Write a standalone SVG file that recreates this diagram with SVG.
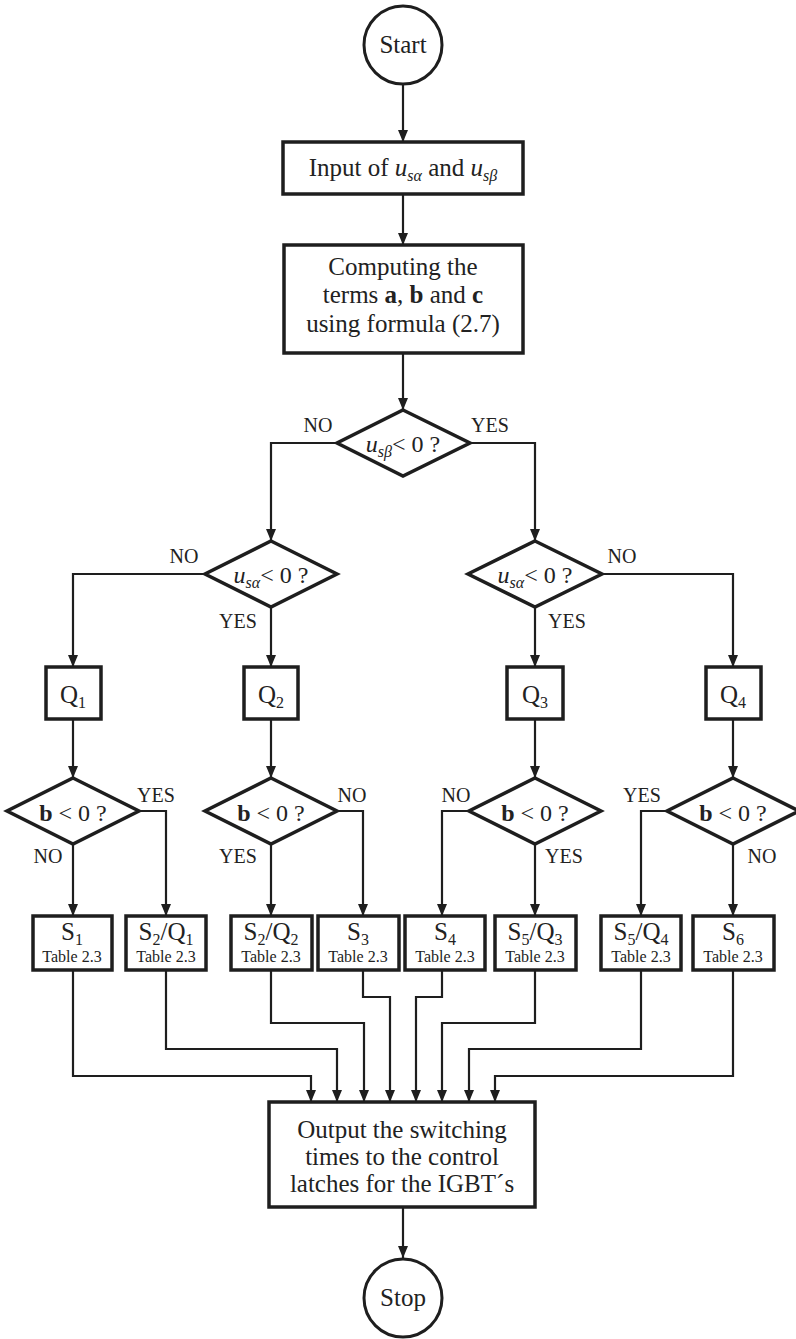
<svg xmlns="http://www.w3.org/2000/svg" width="796" height="1339" viewBox="0 0 796 1339">
<defs>
<marker id="arr" markerUnits="userSpaceOnUse" markerWidth="12" markerHeight="10" refX="12" refY="5" orient="auto">
<path d="M0,0 L12,5 L0,10 z" fill="#1e1e1e"/>
</marker>
<style>
text{font-family:"Liberation Serif","Times New Roman",serif;fill:#222;}
.t{font-size:25px;text-anchor:middle;}
.d{font-size:24px;text-anchor:middle;}
.lb{font-size:20px;text-anchor:middle;}
.sm{font-size:16px;text-anchor:middle;}
.sub{font-size:16px;}
.it{font-style:italic;}
.box{fill:#fff;stroke:#1e1e1e;stroke-width:3.5;}
.dia{fill:#fff;stroke:#1e1e1e;stroke-width:3.5;stroke-linejoin:miter;}
.circ{fill:#fff;stroke:#1e1e1e;stroke-width:3;}
.c{fill:none;stroke:#1e1e1e;stroke-width:2.2;marker-end:url(#arr);}
</style>
</defs>
<rect width="796" height="1339" fill="#fff"/>

<g id="connectors">
<path class="c" d="M403,84 V142"/>
<path class="c" d="M403,194 V245"/>
<path class="c" d="M403,353 V410"/>
<path class="c" d="M337,443 H271 V541"/>
<path class="c" d="M470,443 H535 V541"/>
<path class="c" d="M205,574 H73 V667"/>
<path class="c" d="M271,607 V667"/>
<path class="c" d="M535,607 V667"/>
<path class="c" d="M602,574 H733 V667"/>
<path class="c" d="M73,719 V778"/>
<path class="c" d="M271,719 V778"/>
<path class="c" d="M535,719 V778"/>
<path class="c" d="M733,719 V778"/>
<path class="c" d="M73,844 V916"/>
<path class="c" d="M139,811 H166 V916"/>
<path class="c" d="M271,844 V916"/>
<path class="c" d="M337,811 H363 V916"/>
<path class="c" d="M469,811 H442 V916"/>
<path class="c" d="M535,844 V916"/>
<path class="c" d="M667,811 H641 V916"/>
<path class="c" d="M733,844 V916"/>
<path class="c" d="M73,970 V1076 H311 V1102"/>
<path class="c" d="M166,970 V1049 H337 V1102"/>
<path class="c" d="M271,970 V1023 H364 V1102"/>
<path class="c" d="M363,970 V997 H390 V1102"/>
<path class="c" d="M442,970 V997 H416 V1102"/>
<path class="c" d="M535,970 V1023 H442 V1102"/>
<path class="c" d="M641,970 V1049 H469 V1102"/>
<path class="c" d="M733,970 V1076 H495 V1102"/>
<path class="c" d="M403,1207 V1258"/>
</g>

<g id="labels">
<text class="lb" x="318" y="432">NO</text>
<text class="lb" x="490" y="432">YES</text>
<text class="lb" x="184" y="563">NO</text>
<text class="lb" x="238" y="628">YES</text>
<text class="lb" x="622" y="563">NO</text>
<text class="lb" x="567" y="628">YES</text>
<text class="lb" x="156" y="802">YES</text>
<text class="lb" x="48" y="863">NO</text>
<text class="lb" x="238" y="863">YES</text>
<text class="lb" x="352" y="802">NO</text>
<text class="lb" x="456" y="802">NO</text>
<text class="lb" x="564" y="863">YES</text>
<text class="lb" x="642" y="802">YES</text>
<text class="lb" x="762" y="863">NO</text>
</g>

<g id="start">
<circle class="circ" cx="403" cy="45" r="39"/>
<text class="t" x="403" y="53">Start</text>
</g>

<g id="input">
<rect class="box" x="283" y="142" width="240" height="52"/>
<text class="t" x="403" y="176">Input of <tspan class="it">u</tspan><tspan class="sub it" dy="5">sα</tspan><tspan dy="-5"> and </tspan><tspan class="it">u</tspan><tspan class="sub it" dy="5">sβ</tspan></text>
</g>

<g id="compute">
<rect class="box" x="284" y="245" width="239" height="108"/>
<text class="t" x="403" y="275">Computing the</text>
<text class="t" x="403" y="303">terms <tspan font-weight="bold">a</tspan>, <tspan font-weight="bold">b</tspan> and <tspan font-weight="bold">c</tspan></text>
<text class="t" x="403" y="332">using formula (2.7)</text>
</g>

<g id="dec-usb">
<polygon class="dia" points="403,410 470,443 403,476 337,443"/>
<text class="d" x="403" y="452"><tspan class="it">u</tspan><tspan class="sub it" dy="5">sβ</tspan><tspan dy="-5">&lt; 0 ?</tspan></text>
</g>

<g id="dec-usa-left">
<polygon class="dia" points="271,541 337,574 271,607 205,574"/>
<text class="d" x="271" y="583"><tspan class="it">u</tspan><tspan class="sub it" dy="5">sα</tspan><tspan dy="-5">&lt; 0 ?</tspan></text>
</g>

<g id="dec-usa-right">
<polygon class="dia" points="535,541 602,574 535,607 468,574"/>
<text class="d" x="535" y="583"><tspan class="it">u</tspan><tspan class="sub it" dy="5">sα</tspan><tspan dy="-5">&lt; 0 ?</tspan></text>
</g>

<g id="q1"><rect class="box" x="46" y="667" width="55" height="52"/><text class="t" x="73" y="703">Q<tspan class="sub" dy="5">1</tspan></text></g>
<g id="q2"><rect class="box" x="244" y="667" width="54" height="52"/><text class="t" x="271" y="703">Q<tspan class="sub" dy="5">2</tspan></text></g>
<g id="q3"><rect class="box" x="507" y="667" width="56" height="52"/><text class="t" x="535" y="703">Q<tspan class="sub" dy="5">3</tspan></text></g>
<g id="q4"><rect class="box" x="706" y="667" width="55" height="52"/><text class="t" x="733" y="703">Q<tspan class="sub" dy="5">4</tspan></text></g>

<g id="dec-b1"><polygon class="dia" points="73,778 139,811 73,844 7,811"/><text class="d" x="73" y="821"><tspan font-weight="bold">b</tspan> &lt; 0 ?</text></g>
<g id="dec-b2"><polygon class="dia" points="271,778 337,811 271,844 205,811"/><text class="d" x="271" y="821"><tspan font-weight="bold">b</tspan> &lt; 0 ?</text></g>
<g id="dec-b3"><polygon class="dia" points="535,778 601,811 535,844 469,811"/><text class="d" x="535" y="821"><tspan font-weight="bold">b</tspan> &lt; 0 ?</text></g>
<g id="dec-b4"><polygon class="dia" points="733,778 799,811 733,844 667,811"/><text class="d" x="733" y="821"><tspan font-weight="bold">b</tspan> &lt; 0 ?</text></g>

<g id="s1"><rect class="box" x="33" y="916" width="79" height="54"/><text class="t" x="72" y="940">S<tspan class="sub" dy="5">1</tspan></text><text class="sm" x="72" y="962">Table 2.3</text></g>
<g id="s2q1"><rect class="box" x="126" y="916" width="80" height="54"/><text class="t" x="166" y="940">S<tspan class="sub" dy="5">2</tspan><tspan dy="-5">/Q</tspan><tspan class="sub" dy="5">1</tspan></text><text class="sm" x="166" y="962">Table 2.3</text></g>
<g id="s2q2"><rect class="box" x="231" y="916" width="81" height="54"/><text class="t" x="271" y="940">S<tspan class="sub" dy="5">2</tspan><tspan dy="-5">/Q</tspan><tspan class="sub" dy="5">2</tspan></text><text class="sm" x="271" y="962">Table 2.3</text></g>
<g id="s3"><rect class="box" x="318" y="916" width="81" height="54"/><text class="t" x="358" y="940">S<tspan class="sub" dy="5">3</tspan></text><text class="sm" x="358" y="962">Table 2.3</text></g>
<g id="s4"><rect class="box" x="405" y="916" width="80" height="54"/><text class="t" x="445" y="940">S<tspan class="sub" dy="5">4</tspan></text><text class="sm" x="445" y="962">Table 2.3</text></g>
<g id="s5q3"><rect class="box" x="495" y="916" width="81" height="54"/><text class="t" x="535" y="940">S<tspan class="sub" dy="5">5</tspan><tspan dy="-5">/Q</tspan><tspan class="sub" dy="5">3</tspan></text><text class="sm" x="535" y="962">Table 2.3</text></g>
<g id="s5q4"><rect class="box" x="601" y="916" width="80" height="54"/><text class="t" x="641" y="940">S<tspan class="sub" dy="5">5</tspan><tspan dy="-5">/Q</tspan><tspan class="sub" dy="5">4</tspan></text><text class="sm" x="641" y="962">Table 2.3</text></g>
<g id="s6"><rect class="box" x="693" y="916" width="81" height="54"/><text class="t" x="733" y="940">S<tspan class="sub" dy="5">6</tspan></text><text class="sm" x="733" y="962">Table 2.3</text></g>

<g id="output">
<rect class="box" x="269" y="1102" width="266" height="105"/>
<text class="t" x="402" y="1138">Output the switching</text>
<text class="t" x="402" y="1165">times to the control</text>
<text class="t" x="402" y="1192">latches for the IGBT´s</text>
</g>

<g id="stop">
<circle class="circ" cx="403" cy="1298" r="39"/>
<text class="t" x="403" y="1306">Stop</text>
</g>
</svg>
